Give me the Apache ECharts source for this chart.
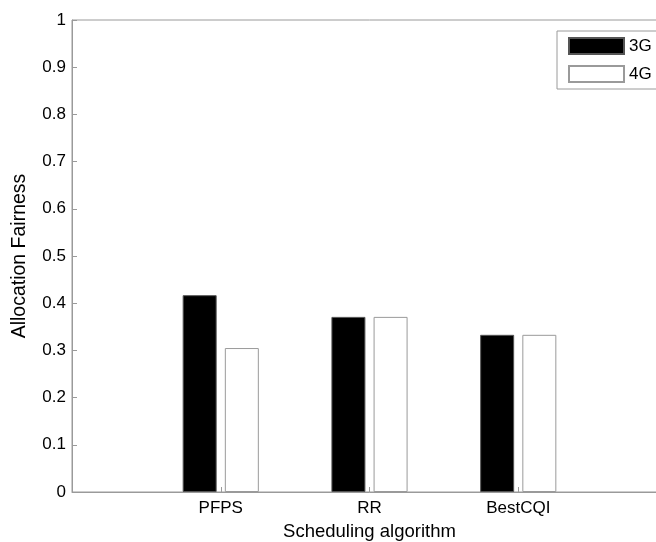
<!DOCTYPE html>
<html>
<head>
<meta charset="utf-8">
<script src="https://cdn.jsdelivr.net/npm/echarts@6/dist/echarts.min.js"></script>
<style>
  html, body { margin: 0; padding: 0; overflow: hidden; background: #fff; }
  #myDiv { width: 690px; height: 542px; }
</style>
</head>
<body>
<div id="myDiv"></div>
<script>
// x axis runs 0..4 like the original plot, only 1..3 carry data
const categories = ['', 'PFPS', 'RR', 'BestCQI', ''];
const values3G = [null, 0.417, 0.371, 0.333, null];
const values4G = [null, 0.305, 0.371, 0.333, null];
const yTicks = [0, 0.1, 0.2, 0.3, 0.4, 0.5, 0.6, 0.7, 0.8, 0.9, 1];

let myChart = echarts.init(document.getElementById('myDiv'));
let font = 'Liberation Sans, Arial, sans-serif';
let axisGray = '#9a9a9a';

let option = {
  animation: false,
  textStyle: { fontFamily: font },
  grid: {
    left: 72, top: 20, width: 595, bottom: 50,
    show: true, borderColor: axisGray, borderWidth: 1,
    containLabel: false, outerBoundsMode: 'none'
  },
  legend: {
    orient: 'vertical',
    left: 557, top: 31,
    padding: [6, 10, 6, 11],
    itemGap: 10,
    itemWidth: 55, itemHeight: 16,
    icon: 'rect',
    borderColor: axisGray, borderWidth: 1, borderRadius: 0,
    backgroundColor: '#fff',
    textStyle: { fontSize: 17, color: '#000', fontFamily: font },
    data: ['3G', '4G']
  },
  xAxis: {
    type: 'category',
    data: categories,
    boundaryGap: false,
    name: 'Scheduling algorithm',
    nameLocation: 'middle',
    nameGap: 30,
    nameTextStyle: { fontSize: 18.5, color: '#000' },
    axisLine: { lineStyle: { color: axisGray } },
    axisTick: {
      inside: true, length: 5,
      interval: function (i, v) { return v !== ''; },
      lineStyle: { color: axisGray }
    },
    axisLabel: { fontSize: 17, color: '#000', margin: 8, interval: 0 },
    splitLine: { show: false }
  },
  yAxis: {
    type: 'value',
    min: yTicks[0], max: yTicks[yTicks.length - 1], interval: 0.1,
    name: 'Allocation Fairness',
    nameLocation: 'middle',
    nameGap: 42,
    nameTextStyle: { fontSize: 19.5, color: '#000' },
    axisLine: { show: true, lineStyle: { color: axisGray } },
    axisTick: { show: true, inside: true, length: 5, lineStyle: { color: axisGray } },
    axisLabel: { fontSize: 17, color: '#000', margin: 6 },
    splitLine: { show: false }
  },
  series: [
    {
      name: '3G', type: 'bar', data: values3G,
      barWidth: 34, barGap: '24%',
      itemStyle: { color: '#000', borderColor: '#555', borderWidth: 1 }
    },
    {
      name: '4G', type: 'bar', data: values4G,
      barWidth: 34,
      itemStyle: { color: '#fff', borderColor: axisGray, borderWidth: 1 }
    }
  ]
};

option && myChart.setOption(option);
</script>
</body>
</html>
